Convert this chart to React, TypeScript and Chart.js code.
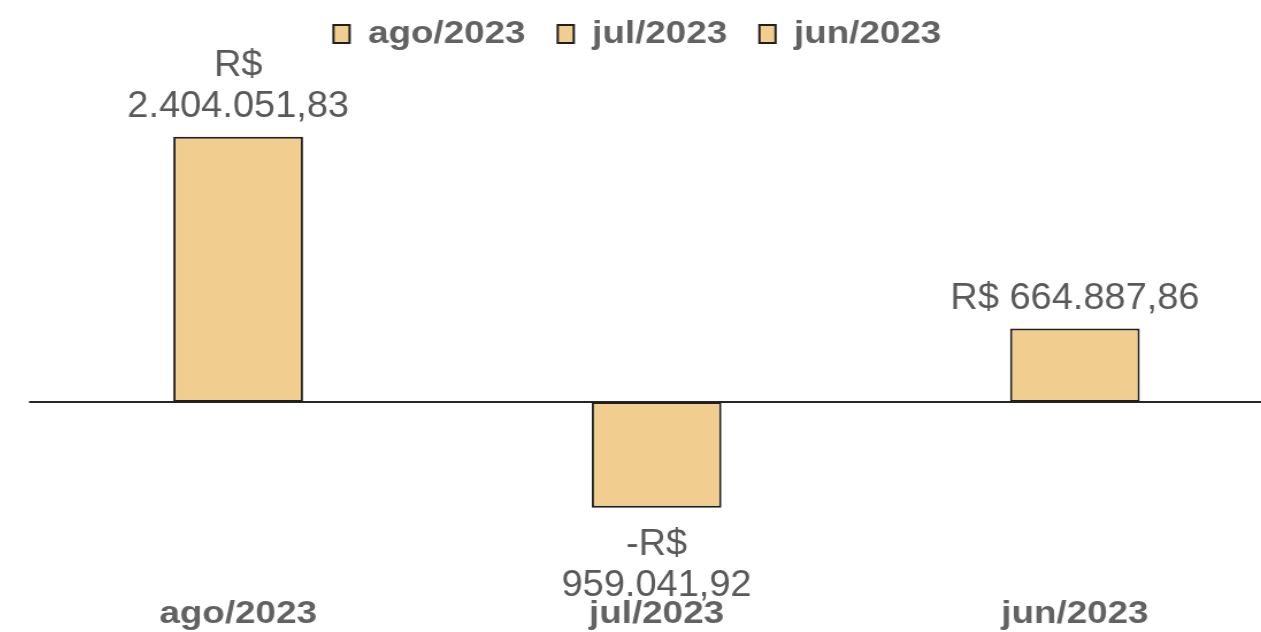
import React, { useEffect, useRef } from "react";
import { Chart, registerables } from "chart.js";

Chart.register(...registerables);

// ---- data ----
const categories: string[] = ["ago/2023", "jul/2023", "jun/2023"];
const values: number[] = [2404051.83, -959041.92, 664887.86];
const legendLabels: string[] = ["ago/2023", "jul/2023", "jun/2023"];

// ---- style ----
const BAR_COLOR = "#F1CE8F";
const BORDER_COLOR = "#1f1f1f";
const LABEL_COLOR = "#595959";
const BOLD_COLOR = "#626262";
const FONT_FAMILY = "'Liberation Sans', Arial, Helvetica, sans-serif";
const STRETCH = 1.15;
const LABEL_SQUEEZE = 0.917;

function formatBRL(v: number): string {
  const neg = v < 0;
  const fixed = Math.abs(v).toFixed(2);
  const [intPart, dec] = fixed.split(".");
  const withDots = intPart.replace(/\B(?=(\d{3})+(?!\d))/g, ".");
  return (neg ? "-" : "") + "R$ " + withDots + "," + dec;
}

const zeroLinePlugin = {
  id: "zeroLine",
  beforeDatasetsDraw(chart: any) {
    const { ctx, chartArea } = chart;
    const y = chart.scales.y.getPixelForValue(0);
    ctx.save();
    ctx.strokeStyle = "#262626";
    ctx.lineWidth = 2;
    ctx.beginPath();
    ctx.moveTo(chartArea.left, y);
    ctx.lineTo(chartArea.right, y);
    ctx.stroke();
    ctx.restore();
  },
};

const dataLabelPlugin = {
  id: "dataLabels",
  afterDatasetsDraw(chart: any) {
    const { ctx } = chart;
    const meta = chart.getDatasetMeta(0);
    const ds = chart.data.datasets[0].data as number[];
    ctx.save();
    ctx.font = "36px " + FONT_FAMILY;
    ctx.fillStyle = LABEL_COLOR;
    ctx.textAlign = "center";
    ctx.textBaseline = "alphabetic";
    const lineH = 41;
    const draw = (ln: string, x: number, y: number) => {
      ctx.save();
      ctx.translate(x, y);
      ctx.scale(LABEL_SQUEEZE, 1);
      ctx.fillText(ln, 0, 0);
      ctx.restore();
    };
    meta.data.forEach((bar: any, i: number) => {
      const v = ds[i];
      const text = formatBRL(v);
      let lines = [text];
      if (ctx.measureText(text).width > 240) {
        const idx = text.indexOf(" ");
        lines = [text.slice(0, idx), text.slice(idx + 1)];
      }
      const p = bar.getProps(["x", "y", "base"], true);
      if (v >= 0) {
        const top = Math.min(p.y, p.base);
        lines.forEach((ln, j) => {
          draw(ln, p.x, top - 20 - (lines.length - 1 - j) * lineH);
        });
      } else {
        const bottom = Math.max(p.y, p.base);
        lines.forEach((ln, j) => {
          draw(ln, p.x, bottom + 47 + j * lineH);
        });
      }
    });
    ctx.restore();
  },
};

export default function App() {
  const canvasRef = useRef<HTMLCanvasElement | null>(null);

  useEffect(() => {
    if (!canvasRef.current) return;
    const chart = new Chart(canvasRef.current, {
      type: "bar",
      data: {
        labels: categories,
        datasets: [
          {
            data: values,
            backgroundColor: BAR_COLOR,
            borderColor: BORDER_COLOR,
            borderWidth: 2,
            borderSkipped: false,
            barPercentage: 0.31,
            categoryPercentage: 1,
          },
        ],
      },
      options: {
        animation: false,
        responsive: true,
        maintainAspectRatio: false,
        layout: { padding: { left: 9.2, right: 0, top: 0, bottom: 0 } },
        plugins: {
          tooltip: { enabled: false },
          title: { display: false },
          legend: {
            display: true,
            position: "top",
            onClick: () => {},
            labels: {
              boxWidth: 14,
              boxHeight: 18,
              padding: 28,
              color: BOLD_COLOR,
              font: { family: FONT_FAMILY, size: 32, weight: "bold" },
              generateLabels: () =>
                legendLabels.map((t, i) => ({
                  text: t,
                  fillStyle: BAR_COLOR,
                  strokeStyle: BORDER_COLOR,
                  lineWidth: 2,
                  hidden: false,
                  index: i,
                  datasetIndex: 0,
                  fontColor: BOLD_COLOR,
                })),
            },
          },
        },
        scales: {
          x: {
            grid: { display: false, drawTicks: false },
            border: { display: false },
            ticks: {
              color: BOLD_COLOR,
              font: { family: FONT_FAMILY, size: 32, weight: "bold" },
              padding: 2,
              maxRotation: 0,
              autoSkip: false,
            },
          },
          y: {
            min: -1728100,
            max: 3099400,
            grid: { display: false, drawTicks: false },
            border: { display: false },
            ticks: { display: false },
            afterFit: (scale: any) => {
              scale.width = 33.4;
            },
          },
        },
      },
      plugins: [zeroLinePlugin, dataLabelPlugin],
    } as any);
    return () => chart.destroy();
  }, []);

  return (
    <div
      style={{
        position: "absolute",
        left: 0,
        top: 0,
        width: 1261,
        height: 632,
        overflow: "hidden",
        background: "#ffffff",
      }}
    >
      <div
        style={{
          position: "absolute",
          left: -20,
          top: -10,
          width: 1134,
          height: 645,
          transform: `scaleX(${STRETCH})`,
          transformOrigin: "0 0",
        }}
      >
        <canvas ref={canvasRef} />
      </div>
    </div>
  );
}
